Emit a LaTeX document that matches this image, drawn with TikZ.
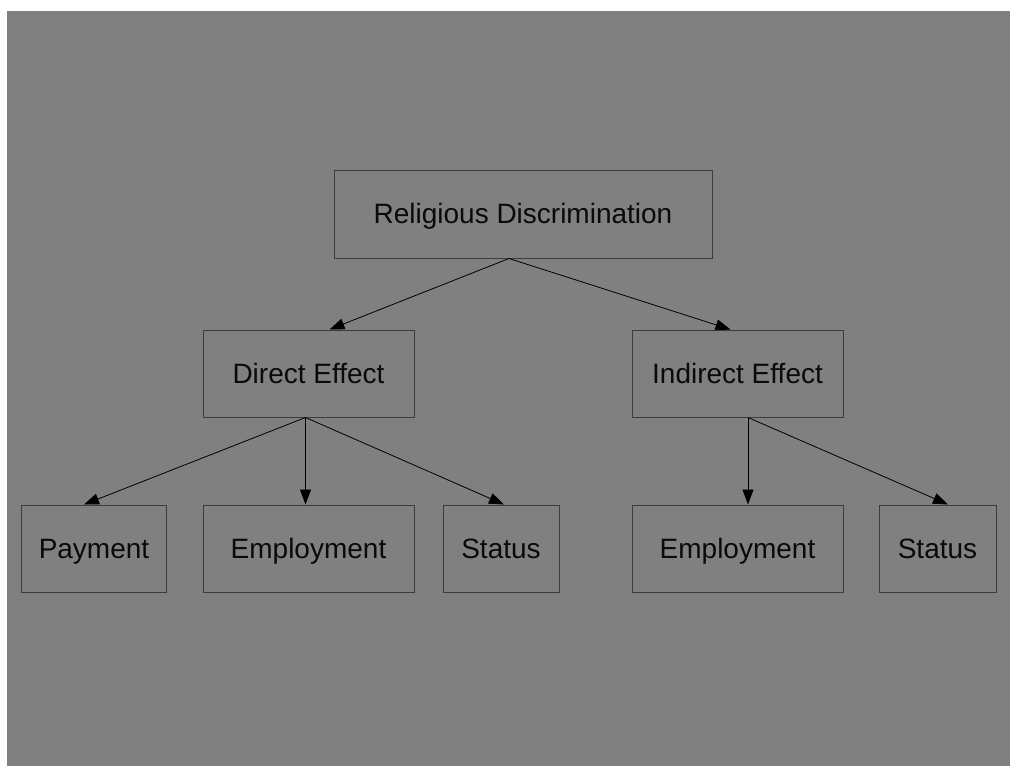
\documentclass[tikz,border=0pt]{standalone}
\usepackage{fontspec}
\setmainfont{Liberation Sans}
\usetikzlibrary{arrows.meta}
\definecolor{bggray}{HTML}{808080}
\definecolor{boxline}{HTML}{3C3C3C}
\definecolor{txt}{HTML}{0A0A0A}
\begin{document}
\begin{tikzpicture}[x=1pt,y=-1pt,
  box/.style={draw=boxline,line width=1pt,inner sep=0pt,text=txt,
    font=\fontsize{28}{34}\selectfont,anchor=center,text height=19pt,text depth=0pt},
  conn/.style={draw=black,line width=0.8pt,-{Triangle[length=15pt,width=11pt]}}]
\useasboundingbox (0,0) rectangle (1010,766);
\fill[white] (0,0) rectangle (1010,766);
\fill[bggray] (7,11) rectangle (1010,766);
\node[box,minimum width=378pt,minimum height=88pt] (rd) at (523,214) {Religious Discrimination};
\node[box,minimum width=211pt,minimum height=87pt] (de) at (308.5,373.5) {Direct Effect};
\node[box,minimum width=211pt,minimum height=87pt] (ie) at (737.5,373.5) {Indirect Effect};
\node[box,minimum width=145pt,minimum height=87pt] (pay) at (94,548.5) {Payment};
\node[box,minimum width=211pt,minimum height=87pt] (emp1) at (308.5,548.5) {Employment};
\node[box,minimum width=116pt,minimum height=87pt] (st1) at (501,548.5) {Status};
\node[box,minimum width=211pt,minimum height=87pt] (emp2) at (737.5,548.5) {Employment};
\node[box,minimum width=117pt,minimum height=87pt] (st2) at (937.5,548.5) {Status};
\draw[conn] ([xshift=-14pt]rd.south) -- ([xshift=21pt]de.north);
\draw[conn] ([xshift=-14pt]rd.south) -- ([xshift=-7pt]ie.north);
\draw[conn] ([xshift=-3pt]de.south) -- ([xshift=-10pt]pay.north);
\draw[conn] ([xshift=-3pt]de.south) -- ([xshift=-3pt]emp1.north);
\draw[conn] ([xshift=-3pt]de.south) -- ([xshift=3pt]st1.north);
\draw[conn] ([xshift=10.5pt]ie.south) -- ([xshift=10.5pt]emp2.north);
\draw[conn] ([xshift=10.5pt]ie.south) -- ([xshift=10.5pt]st2.north);
\end{tikzpicture}
\end{document}
